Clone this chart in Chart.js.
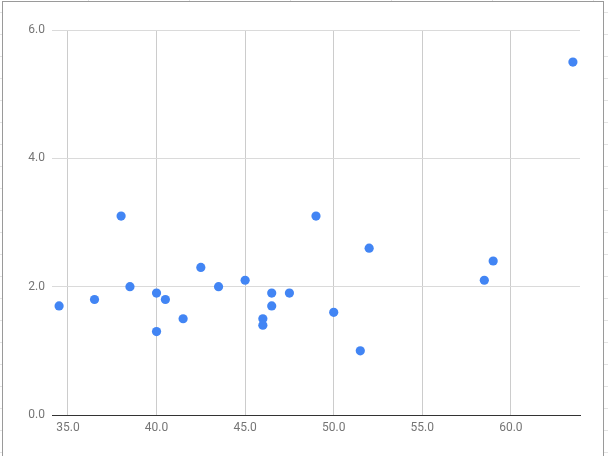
<!DOCTYPE html>
<html>
<head>
<meta charset="utf-8">
<script src="https://cdn.jsdelivr.net/npm/chart.js@4/dist/chart.umd.min.js"></script>
<style>
  html, body { margin: 0; padding: 0; width: 608px; height: 456px; overflow: hidden; background: #fff; }
  #sheet {
    position: absolute; left: 0; top: 0; width: 608px; height: 456px;
    background:
      repeating-linear-gradient(to bottom, transparent 0, transparent 12px, #e3e3e3 12px, #e3e3e3 13px, transparent 13px, transparent 22px),
      repeating-linear-gradient(to right, transparent 0, transparent 88px, #e3e3e3 88px, #e3e3e3 89px, transparent 89px, transparent 101px);
  }
  #frame {
    position: absolute; left: 2px; top: 1px; width: 600px; height: 470px;
    background: #fff; border: 1px solid #9a9a9a;
  }
  #c { position: absolute; left: 0; top: 0; }
</style>
</head>
<body>
<div id="sheet"></div>
<div id="frame"></div>
<canvas id="c" width="608" height="456"></canvas>
<script>
// Data
const xValues = [34.5, 36.5, 38.0, 38.5, 40.0, 40.0, 40.5, 41.5, 42.5, 43.5, 45.0, 46.0, 46.0, 46.5, 46.5, 47.5, 49.0, 50.0, 51.5, 52.0, 58.5, 59.0, 63.5];
const yValues = [1.7, 1.8, 3.1, 2.0, 1.9, 1.3, 1.8, 1.5, 2.3, 2.0, 2.1, 1.5, 1.4, 1.9, 1.7, 1.9, 3.1, 1.6, 1.0, 2.6, 2.1, 2.4, 5.5];
const xTicks = [35, 40, 45, 50, 55, 60];
const yTicks = [0, 2, 4, 6];

const points = xValues.map((x, i) => ({ x: x, y: yValues[i] }));

new Chart(document.getElementById('c'), {
  type: 'scatter',
  data: {
    datasets: [{
      data: points,
      backgroundColor: '#4285F4',
      borderWidth: 0,
      pointRadius: 4.6,
      pointHoverRadius: 4.6
    }]
  },
  options: {
    responsive: false,
    animation: false,
    devicePixelRatio: 1,
    layout: { padding: { top: 30, right: 28, left: 0, bottom: 0 } },
    plugins: { legend: { display: false }, tooltip: { enabled: false } },
    scales: {
      x: {
        type: 'linear',
        min: 34.1,
        max: 63.9,
        afterBuildTicks: s => { s.ticks = xTicks.map(v => ({ value: v })); },
        afterFit: s => { s.height = 41; },
        grid: { color: '#cccccc', lineWidth: 1, drawTicks: false },
        border: { display: true, color: '#333333', width: 1 },
        ticks: {
          padding: 6,
          color: '#757575',
          font: { family: 'Roboto', size: 12 },
          callback: v => Number(v).toFixed(1)
        }
      },
      y: {
        type: 'linear',
        min: 0,
        max: 6,
        afterBuildTicks: s => { s.ticks = yTicks.map(v => ({ value: v })); },
        afterFit: s => { s.width = 52; },
        grid: {
          color: c => (c.tick && c.tick.value === 0) ? '#333333' : '#dadada',
          lineWidth: 1,
          drawTicks: false
        },
        border: { display: false },
        ticks: {
          padding: 7,
          color: '#757575',
          font: { family: 'Roboto', size: 12 },
          callback: v => Number(v).toFixed(1)
        }
      }
    }
  }
});
</script>
</body>
</html>
